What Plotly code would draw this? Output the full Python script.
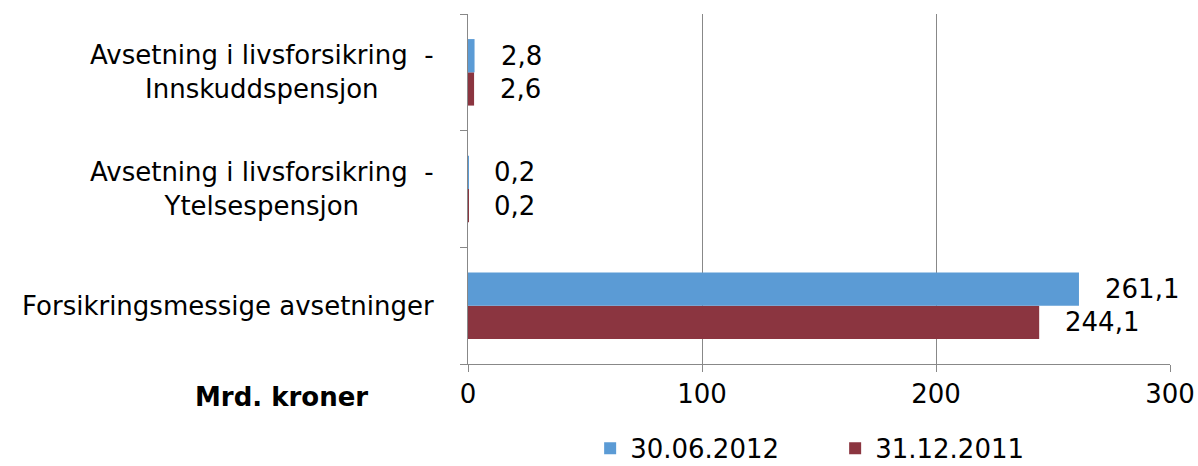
import plotly.graph_objects as go

# categories listed bottom-to-top, as plotly draws a horizontal category axis
categories = [
    "Forsikringsmessige avsetninger",
    "Avsetning i livsforsikring\u00a0 -<br>Ytelsespensjon",
    "Avsetning i livsforsikring\u00a0 -<br>Innskuddspensjon",
]
series_names = ["30.06.2012", "31.12.2011"]
values_2012 = [261.1, 0.2, 2.8]
values_2011 = [244.1, 0.2, 2.6]
x_ticks = [0, 100, 200, 300]

BLUE = "#5B9BD5"
RED = "#8B3540"
GRID = "#888888"
FONT = "DejaVu Sans"


def fmt(v):
    return f"{v:.1f}".replace(".", ",")


fig = go.Figure()
# red first so the blue bar sits above it in each group
fig.add_trace(go.Bar(
    y=categories, x=values_2011, name=series_names[1],
    orientation="h", marker_color=RED, marker_line_width=0,
    hoverinfo="x+name",
))
fig.add_trace(go.Bar(
    y=categories, x=values_2012, name=series_names[0],
    orientation="h", marker_color=BLUE, marker_line_width=0,
    hoverinfo="x+name",
))

annotations = []
bar_px = 33.5
for cat, v12, v11 in zip(categories, values_2012, values_2011):
    annotations.append(dict(
        x=v12, y=cat, text=fmt(v12), showarrow=False,
        xanchor="left", xshift=24, yshift=bar_px / 2,
        font=dict(size=26, color="black"),
    ))
    annotations.append(dict(
        x=v11, y=cat, text=fmt(v11), showarrow=False,
        xanchor="left", xshift=24, yshift=-bar_px / 2,
        font=dict(size=26, color="black"),
    ))
    # category labels, centred lines like the original
    annotations.append(dict(
        x=0, xref="paper", y=cat, text=cat, showarrow=False,
        xanchor="right", xshift=-32, align="center",
        font=dict(size=26, color="black"),
    ))

annotations.append(dict(
    x=-0.1396, xref="paper", y=-0.094, yref="paper",
    text="<b>Mrd. kroner</b>", showarrow=False,
    xanchor="right", yanchor="middle",
    font=dict(size=26, color="black"),
))

fig.update_layout(
    width=1198,
    height=466,
    template="plotly_white",
    barmode="group",
    bargap=0.43,
    bargroupgap=0,
    margin=dict(l=468, r=28, t=14, b=102, autoexpand=False),
    font=dict(family=FONT, size=26, color="black"),
    plot_bgcolor="white",
    paper_bgcolor="white",
    showlegend=True,
    legend=dict(
        orientation="h", traceorder="reversed",
        x=0.523, xanchor="center", y=-0.241, yanchor="middle",
        font=dict(size=26), itemwidth=30, entrywidth=200,
    ),
    annotations=annotations,
)

fig.update_xaxes(
    range=[0, 300], tickvals=x_ticks,
    showgrid=True, gridcolor=GRID, gridwidth=1,
    zeroline=False, automargin=False,
    showline=True, linecolor=GRID, linewidth=1,
    ticks="outside", ticklen=7, tickcolor=GRID,
    tickfont=dict(size=26, color="black"),
)
fig.update_yaxes(
    showticklabels=False, tickson="boundaries",
    showgrid=False, zeroline=False, automargin=False,
    showline=True, linecolor=GRID, linewidth=1,
    ticks="outside", ticklen=7, tickcolor=GRID,
)

# drop the default page margin so the figure fills the window exactly
fig.write_html(
    "out.html",
    config={"displayModeBar": False},
    post_script="document.body.style.margin='0';document.body.style.overflow='hidden';",
)
